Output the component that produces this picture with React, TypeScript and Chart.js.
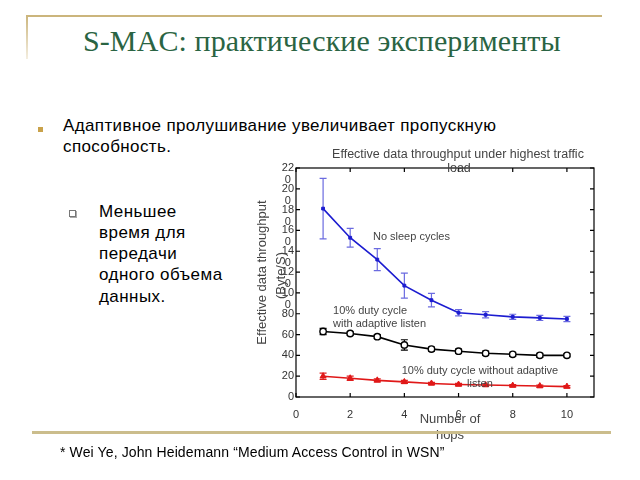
import React, { useEffect, useRef } from "react";
import { Chart, registerables } from "chart.js";

Chart.register(...registerables);

// ---- data ----
const hops = [1, 2, 3, 4, 5, 6, 7, 8, 9, 10];
const noSleep = [181, 153, 132, 107, 93, 81, 79, 77, 76, 75];
const noSleepErr = [29, 9, 10.5, 12, 6.5, 3, 3, 2.5, 2.5, 2.5];
const adaptive = [63, 61, 58, 50, 46, 44, 42, 41, 40, 40];
const adaptiveErr = [3, 1.5, 2, 5, 2, 2, 2, 2, 2, 1.5];
const noAdaptive = [20, 18, 16, 14.5, 13, 12, 11.5, 11, 10.5, 10];
const noAdaptiveErr = [3, 2, 1.5, 1.5, 1, 1, 1, 1, 1, 1];

const xTicks = [0, 2, 4, 6, 8, 10];
const yTicks = [0, 20, 40, 60, 80, 100, 120, 140, 160, 180, 200, 220];
const yTickLabels = [
  ["0"], ["20"], ["40"], ["60"], ["80"],
  ["10", "0"], ["12", "0"], ["14", "0"], ["16", "0"], ["18", "0"], ["20", "0"], ["22", "0"],
];

const chartTitle = ["Effective data throughput under highest traffic", "load"];
const xTitle = ["Number of", "hops"];
const yTitle = ["Effective data throughput", "(Byte/S)"];

const notes = [
  { x: 2.84, y: 154, lines: ["No sleep cycles"], align: "left" },
  { x: 1.37, y: 83, lines: ["10% duty cycle", "with adaptive listen"], align: "left" },
  { x: 6.79, y: 25, lines: ["10% duty cycle without adaptive", "listen"], align: "center" },
];

const seriesErr = [noSleepErr, adaptiveErr, noAdaptiveErr];
const seriesVals = [noSleep, adaptive, noAdaptive];
const errColors = ["#6b6be0", "#000000", "#e02020"];

const FONT = '"Liberation Sans", Arial, sans-serif';
const TEXT = "#444444";

const decorPlugin = {
  id: "decor",
  beforeDatasetsDraw(chart: any) {
    const ctx = chart.ctx;
    const xs = chart.scales.x;
    const ys = chart.scales.y;
    ctx.save();
    seriesVals.forEach((vals, i) => {
      ctx.strokeStyle = errColors[i];
      ctx.lineWidth = 1.2;
      vals.forEach((v, j) => {
        const e = seriesErr[i][j];
        const x = xs.getPixelForValue(hops[j]);
        const y1 = ys.getPixelForValue(v - e);
        const y2 = ys.getPixelForValue(v + e);
        ctx.beginPath();
        ctx.moveTo(x, y1);
        ctx.lineTo(x, y2);
        ctx.moveTo(x - 3.5, y1);
        ctx.lineTo(x + 3.5, y1);
        ctx.moveTo(x - 3.5, y2);
        ctx.lineTo(x + 3.5, y2);
        ctx.stroke();
      });
    });
    ctx.restore();
  },
  afterDraw(chart: any) {
    const ctx = chart.ctx;
    const xs = chart.scales.x;
    const ys = chart.scales.y;
    const a = chart.chartArea;
    ctx.save();
    // box
    ctx.strokeStyle = "#000";
    ctx.lineWidth = 1.2;
    ctx.strokeRect(a.left, a.top, a.right - a.left, a.bottom - a.top);
    // inward ticks
    ctx.beginPath();
    xTicks.forEach((v) => {
      const x = xs.getPixelForValue(v);
      ctx.moveTo(x, a.bottom);
      ctx.lineTo(x, a.bottom - 4);
      ctx.moveTo(x, a.top);
      ctx.lineTo(x, a.top + 4);
    });
    yTicks.forEach((v) => {
      const y = ys.getPixelForValue(v);
      ctx.moveTo(a.left, y);
      ctx.lineTo(a.left + 4, y);
      ctx.moveTo(a.right, y);
      ctx.lineTo(a.right - 4, y);
    });
    ctx.stroke();

    // y tick labels
    ctx.fillStyle = "#333";
    ctx.font = `11px ${FONT}`;
    ctx.textBaseline = "middle";
    yTicks.forEach((v, i) => {
      const y = ys.getPixelForValue(v);
      const lines = yTickLabels[i];
      const rx = a.left - 2;
      ctx.textAlign = "right";
      ctx.fillText(lines[0], rx, y);
      if (lines.length > 1) {
        const w = ctx.measureText(lines[0]).width;
        ctx.textAlign = "center";
        ctx.fillText(lines[1], rx - w / 2, y + 12);
      }
    });

    ctx.fillStyle = TEXT;
    // chart title
    const midX = (a.left + a.right) / 2;
    ctx.font = `12.5px ${FONT}`;
    ctx.textAlign = "center";
    ctx.fillText(chartTitle[0], midX + 13, a.top - 13);
    ctx.fillText(chartTitle[1], midX + 14, a.top + 1);

    // x title
    ctx.font = `13px ${FONT}`;
    ctx.fillText(xTitle[0], midX + 5, a.bottom + 22);
    ctx.fillText(xTitle[1], midX + 5, a.bottom + 38);

    // y title
    const midY = (a.top + a.bottom) / 2 - 10;
    ctx.save();
    ctx.translate(a.left - 34, midY);
    ctx.rotate(-Math.PI / 2);
    ctx.fillText(yTitle[0], 0, 0);
    ctx.restore();
    ctx.save();
    ctx.translate(a.left - 15, midY + 3);
    ctx.rotate(-Math.PI / 2);
    ctx.fillText(yTitle[1], 0, 0);
    ctx.restore();

    // notes
    ctx.font = `11px ${FONT}`;
    notes.forEach((n) => {
      const x = xs.getPixelForValue(n.x);
      const y = ys.getPixelForValue(n.y);
      ctx.textAlign = n.align as CanvasTextAlign;
      n.lines.forEach((l, k) => ctx.fillText(l, x, y + k * 13));
    });
    ctx.restore();
  },
};

function ThroughputChart() {
  const ref = useRef<HTMLCanvasElement | null>(null);
  useEffect(() => {
    if (!ref.current) return;
    Chart.defaults.font.family = FONT;
    const toXY = (vals: number[]) => vals.map((v, i) => ({ x: hops[i], y: v }));
    const chart = new Chart(ref.current, {
      type: "line",
      data: {
        datasets: [
          {
            label: "No sleep cycles",
            data: toXY(noSleep),
            borderColor: "#1c1cd0",
            backgroundColor: "#1c1cd0",
            borderWidth: 1.6,
            pointStyle: "rect",
            pointRadius: 2,
            pointBorderWidth: 1,
          },
          {
            label: "10% duty cycle with adaptive listen",
            data: toXY(adaptive),
            borderColor: "#000000",
            backgroundColor: "#ffffff",
            borderWidth: 1.6,
            pointStyle: "circle",
            pointRadius: 3.2,
            pointBorderWidth: 1.4,
          },
          {
            label: "10% duty cycle without adaptive listen",
            data: toXY(noAdaptive),
            borderColor: "#e01818",
            backgroundColor: "#e01818",
            borderWidth: 1.6,
            pointStyle: "triangle",
            pointRadius: 3.5,
            pointBorderWidth: 1,
          },
        ],
      },
      options: {
        responsive: false,
        animation: false,
        layout: { padding: { left: 0, top: 28, right: 26, bottom: 0 } },
        plugins: {
          legend: { display: false },
          tooltip: { enabled: false },
          title: { display: false },
        },
        scales: {
          x: {
            type: "linear",
            min: 0,
            max: 11,
            afterBuildTicks: (s: any) => {
              s.ticks = xTicks.map((v) => ({ value: v }));
            },
            afterFit: (s: any) => {
              s.height = 53;
            },
            grid: { display: false },
            border: { display: false },
            ticks: { color: "#333", font: { size: 11 }, padding: 3, maxRotation: 0 },
          },
          y: {
            type: "linear",
            min: 0,
            max: 220,
            afterBuildTicks: (s: any) => {
              s.ticks = yTicks.map((v) => ({ value: v }));
            },
            afterFit: (s: any) => {
              s.width = 56;
            },
            grid: { display: false },
            border: { display: false },
            ticks: { display: false },
          },
        },
      },
      plugins: [decorPlugin],
    } as any);
    return () => chart.destroy();
  }, []);
  return (
    <canvas
      ref={ref}
      width={380}
      height={310}
      style={{ position: "absolute", left: 240, top: 140, width: 380, height: 310 }}
    />
  );
}

export default function App() {
  const gold = "#cbb57c";
  return (
    <div
      style={{
        position: "absolute",
        left: 0,
        top: 0,
        width: 640,
        height: 480,
        background: "#fff",
        overflow: "hidden",
        fontFamily: FONT,
      }}
    >
      <div style={{ position: "absolute", left: 27, top: 15, width: 575, height: 2, background: gold }} />
      <div
        style={{
          position: "absolute",
          left: 26,
          top: 15,
          width: 2,
          height: 44,
          background: `linear-gradient(${gold}, #f4eee0)`,
        }}
      />
      <div
        style={{
          position: "absolute",
          left: 83,
          top: 26,
          fontFamily: '"Liberation Serif", "Times New Roman", serif',
          fontSize: 30,
          lineHeight: "30px",
          color: "#2a6443",
          whiteSpace: "nowrap",
          letterSpacing: "0.1px",
        }}
      >
        S-MAC: практические эксперименты
      </div>

      <div style={{ position: "absolute", left: 38, top: 127, width: 5, height: 5, background: "#c9a24a" }} />
      <div
        style={{
          position: "absolute",
          left: 63,
          top: 116,
          fontSize: 17,
          lineHeight: "20.5px",
          color: "#000",
          whiteSpace: "nowrap",
          letterSpacing: "0.38px",
        }}
      >
        Адаптивное пролушивание увеличивает пропускную
        <br />
        способность.
      </div>

      <div
        style={{
          position: "absolute",
          left: 69,
          top: 210,
          width: 5,
          height: 5,
          border: "1px solid #777",
          boxShadow: "1px 1px 0 #aaa",
          background: "#fff",
        }}
      />
      <div
        style={{
          position: "absolute",
          left: 99,
          top: 200.5,
          fontSize: 17,
          lineHeight: "21.3px",
          color: "#000",
          whiteSpace: "nowrap",
          letterSpacing: "0.45px",
        }}
      >
        Меньшее
        <br />
        время для
        <br />
        передачи
        <br />
        одного объема
        <br />
        данных.
      </div>

      <ThroughputChart />

      <div style={{ position: "absolute", left: 32, top: 431, width: 579, height: 3, background: "#cbbd8c" }} />
      <div
        style={{
          position: "absolute",
          left: 60,
          top: 445,
          fontSize: 14,
          lineHeight: "14px",
          color: "#000",
          whiteSpace: "nowrap",
          letterSpacing: "0.12px",
        }}
      >
        * Wei Ye, John Heidemann “Medium Access Control in WSN”
      </div>
    </div>
  );
}
